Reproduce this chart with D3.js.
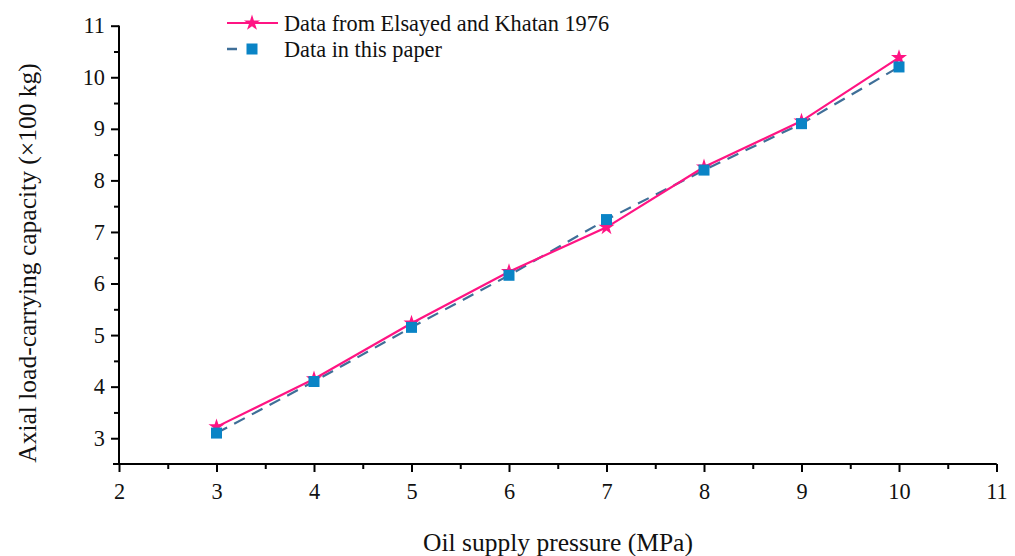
<!DOCTYPE html>
<html>
<head>
<meta charset="utf-8">
<script src="https://cdn.jsdelivr.net/npm/d3@7"></script>
<style>
  html, body { margin: 0; padding: 0; background: #fff; }
  svg { display: block; font-family: "Liberation Serif", "Times New Roman", serif; }
</style>
</head>
<body>
<svg id="chart" width="1015" height="556"></svg>
<script>
// Oil supply pressure (MPa)
const pressure = [3, 4, 5, 6, 7, 8, 9, 10];
// Axial load-carrying capacity (x100 kg)
const elsayedKhatan = [3.22, 4.15, 5.23, 6.23, 7.09, 8.26, 9.15, 10.38];
const thisPaper = [3.10, 4.10, 5.15, 6.16, 7.24, 8.20, 9.10, 10.20];
const seriesNames = ["Data from Elsayed and Khatan 1976", "Data in this paper"];
const xTicks = [2, 3, 4, 5, 6, 7, 8, 9, 10, 11];
const yTicks = [3, 4, 5, 6, 7, 8, 9, 10, 11];

const pink = "#ff1483";
const blueFill = "#0a84c6";
const blueLine = "#3f6f98";

const svg = d3.select("#chart");
const plotLeft = 119, plotRight = 996.5, plotTop = 25.7, plotBottom = 464;

const x = d3.scaleLinear().domain([2, 11]).range([plotLeft, plotRight]);
const y = d3.scaleLinear().domain([2.5, 11]).range([plotBottom, plotTop]);

const font = 22.3;
const titleFont = 25.5;

// X axis
const gx = svg.append("g").attr("transform", `translate(0,${plotBottom})`);
gx.call(d3.axisBottom(x).tickValues(xTicks).tickSize(8).tickPadding(11).tickFormat(d3.format("d")));
gx.append("g").call(d3.axisBottom(x).tickValues(d3.range(2.5, 11, 1)).tickSize(5).tickFormat(""));

// Y axis
const gy = svg.append("g").attr("transform", `translate(${plotLeft},0)`);
gy.call(d3.axisLeft(y).tickValues(yTicks).tickSize(8).tickPadding(6).tickFormat(d3.format("d")));
gy.append("g").call(d3.axisLeft(y).tickValues(d3.range(3.5, 11, 1)).tickSize(5).tickFormat(""));

// Plain axis lines without end caps
svg.selectAll(".domain").attr("stroke", "#000").attr("stroke-width", 2);
gx.selectAll(".domain").attr("d", `M${plotLeft - 6},0H${plotRight}`);
gy.selectAll(".domain").attr("d", `M0,${plotTop}V${plotBottom}`);
svg.selectAll(".tick line").attr("stroke", "#000").attr("stroke-width", 2);
svg.selectAll(".tick text").attr("font-size", font).attr("fill", "#111")
  .attr("font-family", "Liberation Serif, Times New Roman, serif");

// Axis titles
svg.append("text")
  .attr("x", 558).attr("y", 551)
  .attr("text-anchor", "middle").attr("font-size", titleFont).attr("fill", "#111")
  .text("Oil supply pressure (MPa)");
svg.append("text")
  .attr("transform", `translate(36,263) rotate(-90)`)
  .attr("text-anchor", "middle").attr("font-size", titleFont).attr("fill", "#111")
  .text("Axial load-carrying capacity (\u00d7100 kg)");

const line = d3.line().x((d, i) => x(pressure[i])).y(d => y(d));

// Series 2: this paper (dashed, squares)
svg.append("path").datum(thisPaper)
  .attr("fill", "none").attr("stroke", blueLine).attr("stroke-width", 2.2)
  .attr("stroke-dasharray", "12,8")
  .attr("d", line);

// Series 1: Elsayed and Khatan (solid, stars)
svg.append("path").datum(elsayedKhatan)
  .attr("fill", "none").attr("stroke", pink).attr("stroke-width", 2.2)
  .attr("d", line);

const star = d3.symbol().type(d3.symbolStar).size(80);
svg.append("g").selectAll("path").data(elsayedKhatan).join("path")
  .attr("transform", (d, i) => `translate(${x(pressure[i])},${y(d)})`)
  .attr("d", star).attr("fill", pink);

const sq = 11;
svg.append("g").selectAll("rect").data(thisPaper).join("rect")
  .attr("x", (d, i) => x(pressure[i]) - sq / 2)
  .attr("y", d => y(d) - sq / 2)
  .attr("width", sq).attr("height", sq)
  .attr("fill", blueFill);

// Legend
const lg = svg.append("g");
const ly1 = 23, ly2 = 49;
lg.append("line").attr("x1", 227).attr("x2", 278).attr("y1", ly1).attr("y2", ly1)
  .attr("stroke", pink).attr("stroke-width", 2.2);
lg.append("path").attr("transform", `translate(252,${ly1})`).attr("d", star).attr("fill", pink);
lg.append("line").attr("x1", 227).attr("x2", 237).attr("y1", ly2).attr("y2", ly2)
  .attr("stroke", blueLine).attr("stroke-width", 2.5);
lg.append("rect").attr("x", 252 - sq / 2).attr("y", ly2 - sq / 2).attr("width", sq).attr("height", sq)
  .attr("fill", blueFill);
lg.selectAll("text").data(seriesNames).join("text")
  .attr("x", 284).attr("y", (d, i) => (i === 0 ? ly1 : ly2) + 7.5)
  .attr("font-size", font).attr("fill", "#111")
  .text(d => d);
</script>
</body>
</html>
